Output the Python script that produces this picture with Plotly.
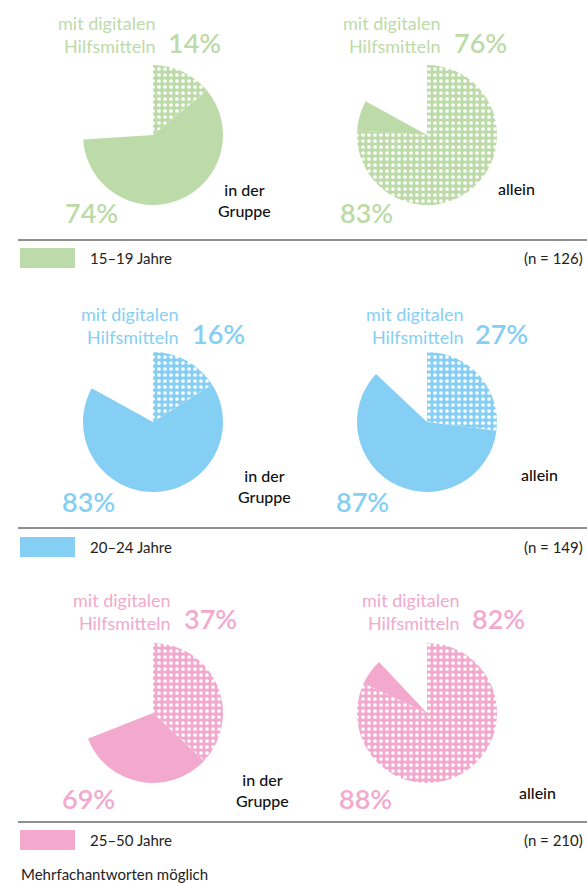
import plotly.graph_objects as go

# Age groups and sample sizes
groups = ["15–19 Jahre", "20–24 Jahre", "25–50 Jahre"]
sample_sizes = [126, 149, 210]

# Share learning in a group / alone, and share of those using digital aids
group_total = [74, 83, 69]
group_digital = [14, 16, 37]
alone_total = [83, 87, 88]
alone_digital = [76, 27, 82]

category_labels = ["in der<br>Gruppe", "allein"]
aid_label = "mit digitalen<br>Hilfsmitteln"
footnote = "Mehrfachantworten möglich"

colors = ["#bddba8", "#86cff4", "#f2a9cd"]

W, H = 587, 883
FONT = "Lato, 'Noto Sans', sans-serif"


def px(x):
    return x / W


def py(y):
    return 1 - y / H


# Per-row page layout (pixels)
rows = [
    dict(cy=135, lab_y=34, lab_r=(157, 442), pct_y=43, pct_l=(166, 452),
         bot_y=213, bot_c=(91, 366), cat_c=(244, 516), cat_y=(200, 188), rule=240, leg=258),
    dict(cy=422, lab_y=326, lab_r=(180, 465), pct_y=333, pct_l=(190, 473),
         bot_y=502, bot_c=(88, 362), cat_c=(264, 539), cat_y=(486, 475), rule=528, leg=547),
    dict(cy=713, lab_y=611, lab_r=(172, 461), pct_y=618, pct_l=(182, 470),
         bot_y=798, bot_c=(88, 365), cat_c=(262, 537), cat_y=(790, 792), rule=822, leg=840),
]
pie_cx = (153, 427)
R = 70

fig = go.Figure()
annotations = []
shapes = []

for i, row in enumerate(rows):
    col = colors[i]
    totals = (group_total[i], alone_total[i])
    digital = (group_digital[i], alone_digital[i])
    for j in range(2):
        t, d = totals[j], digital[j]
        cx, cy = pie_cx[j], row["cy"]
        fig.add_trace(go.Pie(
            values=[d, t - d, 100 - t],
            labels=["digital", "ohne", "rest"],
            sort=False,
            direction="clockwise",
            rotation=0,
            textinfo="none",
            hoverinfo="skip",
            showlegend=False,
            marker=dict(
                colors=[col, col, "rgba(0,0,0,0)"],
                line=dict(width=0),
                pattern=dict(
                    shape=[".", "", ""],
                    fillmode="overlay",
                    fgcolor="white",
                    fgopacity=1,
                    size=6,
                    solidity=0.3,
                ),
            ),
            domain=dict(x=[px(cx - R), px(cx + R)], y=[py(cy + R), py(cy - R)]),
        ))
        # "mit digitalen Hilfsmitteln" label + share
        annotations.append(dict(
            x=px(row["lab_r"][j]), y=py(row["lab_y"]), xanchor="right", yanchor="middle",
            text=aid_label, align="right", showarrow=False,
            font=dict(family=FONT, size=18, color=col)))
        annotations.append(dict(
            x=px(row["pct_l"][j]), y=py(row["pct_y"]), xanchor="left", yanchor="middle",
            text=f"{d}%", showarrow=False,
            font=dict(family=FONT, size=27, color=col, weight=600)))
        # total share
        annotations.append(dict(
            x=px(row["bot_c"][j]), y=py(row["bot_y"]), xanchor="center", yanchor="middle",
            text=f"{t}%", showarrow=False,
            font=dict(family=FONT, size=27, color=col, weight=600)))
        # category label
        annotations.append(dict(
            x=px(row["cat_c"][j]), y=py(row["cat_y"][j]), xanchor="center", yanchor="middle",
            text=category_labels[j], align="center", showarrow=False,
            font=dict(family=FONT, size=16, color="#111111", weight=500)))

    # separator rule
    shapes.append(dict(type="line", xref="paper", yref="paper",
                       x0=px(18), x1=1, y0=py(row["rule"]), y1=py(row["rule"]),
                       line=dict(color="#6b6b6b", width=1.5)))
    # legend swatch and texts
    shapes.append(dict(type="rect", xref="paper", yref="paper",
                       x0=px(20), x1=px(75), y0=py(row["leg"] + 10), y1=py(row["leg"] - 10),
                       fillcolor=col, line=dict(width=0)))
    annotations.append(dict(
        x=px(88), y=py(row["leg"]), xanchor="left", yanchor="middle",
        text=groups[i], showarrow=False,
        font=dict(family=FONT, size=15, color="#222222")))
    annotations.append(dict(
        x=px(585), y=py(row["leg"]), xanchor="right", yanchor="middle",
        text=f"(n = {sample_sizes[i]})", showarrow=False,
        font=dict(family=FONT, size=15, color="#222222")))

annotations.append(dict(
    x=px(19), y=py(874), xanchor="left", yanchor="middle",
    text=footnote, showarrow=False,
    font=dict(family=FONT, size=15, color="#222222")))

fig.update_layout(
    width=W, height=H,
    margin=dict(l=0, r=0, t=0, b=0),
    paper_bgcolor="white",
    plot_bgcolor="white",
    annotations=annotations,
    shapes=shapes,
)

fig.write_html("out.html")
